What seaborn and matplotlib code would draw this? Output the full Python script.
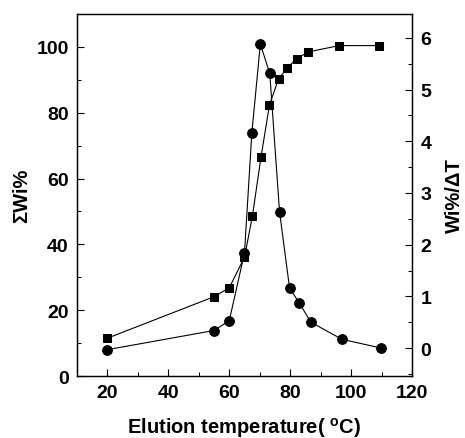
import pandas as pd
import seaborn as sns
import matplotlib
matplotlib.use("Agg")
import matplotlib.pyplot as plt
from matplotlib.ticker import MultipleLocator

# cumulative weight fraction (squares, left axis)
temp_sum = [20, 55, 60, 65, 67.6, 70.4, 73.2, 76.2, 79.1, 82.1, 86.0, 96.1, 109.2]
sum_wi = [11.5, 24.1, 26.8, 36.1, 48.6, 66.4, 82.4, 90.3, 93.7, 96.4, 98.5, 100.4, 100.4]

# differential weight fraction (circles, right axis)
temp_diff = [20, 55, 60, 65, 67.4, 70.2, 73.3, 76.5, 79.8, 82.9, 86.8, 97.0, 109.9]
diff_wi = [-0.03, 0.34, 0.53, 1.84, 4.15, 5.88, 5.31, 2.64, 1.16, 0.88, 0.50, 0.17, 0.0]

df_sum = pd.DataFrame({"T": temp_sum, "v": sum_wi})
df_diff = pd.DataFrame({"T": temp_diff, "v": diff_wi})

sns.set_style("ticks")
plt.rcParams["font.family"] = ["Liberation Sans", "DejaVu Sans"]
plt.rcParams["font.weight"] = "bold"
plt.rcParams["mathtext.fontset"] = "custom"
plt.rcParams["mathtext.rm"] = "Liberation Sans:bold"
plt.rcParams["mathtext.it"] = "Liberation Sans:bold"
plt.rcParams["text.color"] = "black"
plt.rcParams["axes.labelcolor"] = "black"
plt.rcParams["xtick.color"] = "black"
plt.rcParams["ytick.color"] = "black"
plt.rcParams["axes.edgecolor"] = "black"

fig = plt.figure(figsize=(4.65, 4.39), dpi=100)
ax = fig.add_axes([0.1656, 0.1412, 0.7204, 0.8246])
ax2 = ax.twinx()

sns.lineplot(data=df_sum, x="T", y="v", ax=ax, color="black", marker="s",
             markersize=6, linewidth=0.8, markeredgecolor="black")
sns.lineplot(data=df_diff, x="T", y="v", ax=ax2, color="black", marker="o",
             markersize=7, linewidth=0.8, markeredgecolor="black")

ax.set_xlim(10, 120)
ax.set_ylim(0, 110)
ax2.set_ylim(-0.54, 6.46)

ax.xaxis.set_major_locator(MultipleLocator(20))
ax.xaxis.set_minor_locator(MultipleLocator(10))
ax.yaxis.set_major_locator(MultipleLocator(20))
ax.yaxis.set_minor_locator(MultipleLocator(10))
ax2.yaxis.set_major_locator(MultipleLocator(1))
ax2.yaxis.set_minor_locator(MultipleLocator(0.5))

for a in (ax, ax2):
    a.tick_params(which="major", direction="in", length=5, width=0.8,
                  labelsize=14, pad=6, colors="black")
    a.tick_params(which="minor", direction="in", length=3, width=0.7,
                  colors="black")
    for s in a.spines.values():
        s.set_linewidth(0.9)
        s.set_color("black")
        s.set_visible(True)
ax.tick_params(axis="x", top=False, which="both")

for lab in ax.get_xticklabels() + ax.get_yticklabels() + ax2.get_yticklabels():
    lab.set_fontweight("bold")

ax.set_xlabel(r"Elution temperature( $^{\mathrm{o}}$C)", fontsize=14.5,
              fontweight="bold", labelpad=10, color="black")
ax.set_ylabel("ΣWi%", fontsize=14.5, fontweight="bold", labelpad=4,
              color="black")
ax2.set_ylabel("Wi%/ΔT", fontsize=14.5, fontweight="bold", labelpad=10,
               color="black")

fig.savefig("out.png", dpi=100)
